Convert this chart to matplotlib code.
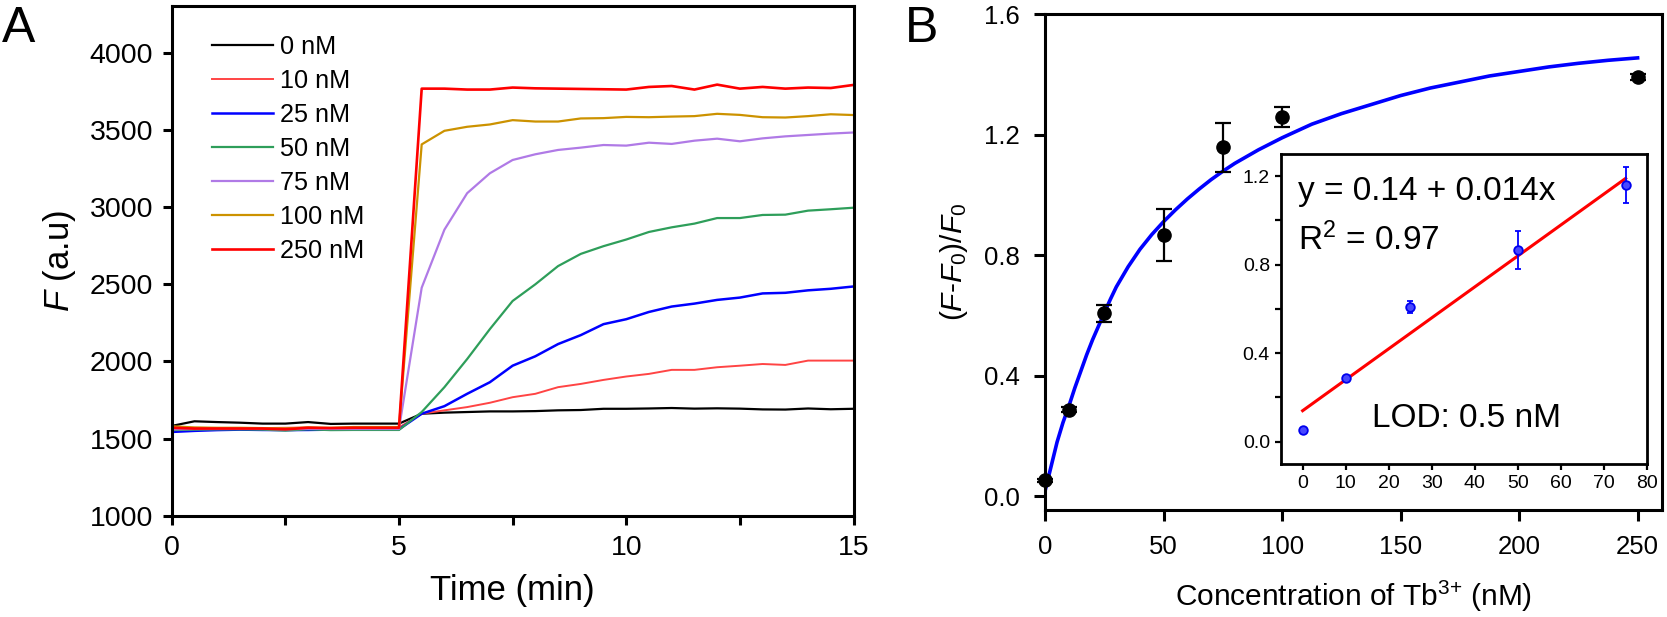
import matplotlib.pyplot as plt
from matplotlib.ticker import MultipleLocator

plt.rcParams['font.family'] = ['Liberation Sans', 'DejaVu Sans']
plt.rcParams['mathtext.fontset'] = 'custom'
plt.rcParams['mathtext.rm'] = 'Liberation Sans'
plt.rcParams['mathtext.it'] = 'Liberation Sans:italic'

# panel A: fluorescence vs time, one reading every 0.5 min
time_min = [i * 0.5 for i in range(31)]
labels = ['0 nM', '10 nM', '25 nM', '50 nM', '75 nM', '100 nM', '250 nM']
colors = ['#000000', '#ff4444', '#0000ff', '#2e9e5a', '#b07ae6', '#cc9200', '#ff0000']
widths = [1.6, 1.4, 1.8, 1.6, 1.6, 1.6, 1.9]

f_0 = [1582, 1612, 1607, 1603, 1597, 1597, 1607, 1595, 1597, 1597, 1597,
       1661, 1668, 1672, 1676, 1676, 1678, 1683, 1685, 1693, 1693, 1695,
       1698, 1694, 1696, 1694, 1689, 1688, 1695, 1690, 1693]
f_10 = [1575, 1570, 1568, 1565, 1568, 1570, 1572, 1565, 1568, 1570, 1572,
        1661, 1683, 1704, 1732, 1768, 1790, 1833, 1854, 1880, 1902, 1919,
        1945, 1945, 1962, 1972, 1983, 1977, 2005, 2005, 2005]
f_25 = [1543, 1550, 1555, 1558, 1556, 1555, 1556, 1558, 1560, 1558, 1560,
        1661, 1710, 1790, 1865, 1972, 2033, 2112, 2170, 2241, 2273, 2320,
        2355, 2374, 2398, 2413, 2440, 2444, 2460, 2470, 2485]
f_50 = [1555, 1558, 1560, 1560, 1558, 1552, 1560, 1555, 1556, 1556, 1556,
        1672, 1833, 2015, 2209, 2391, 2499, 2617, 2696, 2746, 2789, 2838,
        2868, 2892, 2928, 2928, 2948, 2950, 2976, 2985, 2995]
f_75 = [1560, 1562, 1562, 1563, 1562, 1560, 1563, 1562, 1562, 1562, 1562,
        2477, 2853, 3089, 3218, 3304, 3341, 3369, 3384, 3401, 3397, 3416,
        3408, 3429, 3442, 3425, 3444, 3457, 3466, 3475, 3482]
f_100 = [1580, 1572, 1570, 1570, 1568, 1565, 1572, 1570, 1575, 1575, 1575,
         3405, 3493, 3519, 3534, 3562, 3553, 3553, 3573, 3575, 3583, 3581,
         3585, 3588, 3603, 3596, 3581, 3579, 3588, 3600, 3595]
f_250 = [1570, 1565, 1565, 1565, 1565, 1560, 1570, 1568, 1570, 1570, 1570,
         3766, 3766, 3760, 3760, 3773, 3768, 3766, 3764, 3762, 3760, 3777,
         3783, 3760, 3792, 3766, 3777, 3766, 3773, 3770, 3790]
series_a = [f_0, f_10, f_25, f_50, f_75, f_100, f_250]

# panel B: response vs Tb3+ concentration
conc = [0, 10, 25, 50, 75, 100, 250]
resp = [0.053, 0.287, 0.608, 0.866, 1.159, 1.259, 1.392]
resp_err = [0.006, 0.008, 0.028, 0.086, 0.081, 0.034, 0.010]

# fitted saturation curve
fit_x = [0, 2.5, 5, 7.5, 10, 12.5, 15, 17.5, 20, 22.5, 25, 27.5, 30, 35, 40,
         45, 50, 55, 60, 65, 70, 75, 80, 90, 100, 112.5, 125, 137.5, 150,
         162.5, 175, 187.5, 200, 212.5, 225, 237.5, 250]
fit_y = [0.02, 0.10, 0.18, 0.245, 0.30, 0.36, 0.415, 0.47, 0.52, 0.565,
         0.61, 0.654, 0.695, 0.762, 0.82, 0.869, 0.912, 0.951, 0.987, 1.02,
         1.051, 1.079, 1.105, 1.15, 1.19, 1.235, 1.27, 1.30, 1.33, 1.355,
         1.375, 1.395, 1.41, 1.425, 1.437, 1.447, 1.455]

# inset: linear range
lin_x = [0, 10, 25, 50, 75]
lin_y = [0.053, 0.287, 0.608, 0.866, 1.159]
lin_err = [0.010, 0.012, 0.028, 0.086, 0.081]
line_x = [0, 75]
line_y = [0.14, 1.19]

fig = plt.figure(figsize=(16.67, 6.17), dpi=100)

# ---- A ----
ax1 = fig.add_axes([0.103, 0.164, 0.409, 0.826])
for ys, lab, c, w in zip(series_a, labels, colors, widths):
    ax1.plot(time_min, ys, color=c, lw=w, label=lab)
ax1.set_xlim(0, 15)
ax1.set_ylim(1000, 4300)
ax1.xaxis.set_major_locator(MultipleLocator(5))
ax1.xaxis.set_minor_locator(MultipleLocator(2.5))
ax1.yaxis.set_major_locator(MultipleLocator(500))
ax1.tick_params(which='both', direction='out', length=6.5, width=2.2,
                labelsize=20.5, pad=7)
for s in ax1.spines.values():
    s.set_linewidth(2.2)
ax1.set_xlabel('Time (min)', fontsize=25, labelpad=10)
ax1.set_ylabel('$F$ (a.u)', fontsize=25, labelpad=8)
ax1.legend(loc='upper left', frameon=False, fontsize=18.2, handlelength=2.4,
           handletextpad=0.3, labelspacing=0.4, bbox_to_anchor=(0.026, 0.989))
fig.text(0.001, 0.99, 'A', fontsize=36, va='top', ha='left')

# ---- B ----
ax2 = fig.add_axes([0.627, 0.173, 0.370, 0.804])
ax2.plot(fit_x, fit_y, color='#0000ff', lw=2.6, zorder=2)
ax2.errorbar(conc, resp, yerr=resp_err, fmt='o', color='black', ms=9.5,
             capsize=6, elinewidth=1.6, capthick=1.6, zorder=3, clip_on=False)
ax2.set_xlim(0, 260.3)
ax2.set_ylim(-0.046, 1.6)
ax2.xaxis.set_major_locator(MultipleLocator(50))
ax2.yaxis.set_major_locator(MultipleLocator(0.4))
ax2.yaxis.set_major_formatter(plt.FormatStrFormatter('%.1f'))
ax2.tick_params(direction='out', length=8, width=2.2, labelsize=18.5, pad=10)
for s in ax2.spines.values():
    s.set_linewidth(2.2)
ax2.set_xlabel(r'Concentration of Tb$^{3\!+}\,$(nM)', fontsize=21.5, labelpad=14)
ax2.set_ylabel(r'($F$-$F_\mathit{0}$)/$F_\mathit{0}$', fontsize=21.5, labelpad=10)
fig.text(0.543, 0.99, 'B', fontsize=36, va='top', ha='left')

# ---- inset ----
ax3 = fig.add_axes([0.7685, 0.2483, 0.2196, 0.502])
ax3.plot(line_x, line_y, color='#ff0000', lw=2.2, zorder=2)
ax3.errorbar(lin_x, lin_y, yerr=lin_err, fmt='o', color='#0000ff', ms=6.2,
             mfc='#4848ff', mec='#0000ee', mew=1.3, capsize=2.5, elinewidth=1.3,
             capthick=1.3, zorder=3)
ax3.set_xlim(-5, 80)
ax3.set_ylim(-0.1, 1.3)
ax3.xaxis.set_major_locator(MultipleLocator(10))
ax3.yaxis.set_major_locator(MultipleLocator(0.4))
ax3.yaxis.set_minor_locator(MultipleLocator(0.2))
ax3.yaxis.set_major_formatter(plt.FormatStrFormatter('%.1f'))
ax3.tick_params(which='both', direction='out', length=4, width=1.6,
                labelsize=14, pad=4)
for s in ax3.spines.values():
    s.set_linewidth(2)
ax3.text(0.045, 0.851, 'y = 0.14 + 0.014x', transform=ax3.transAxes,
         fontsize=24, va='baseline')
ax3.text(0.045, 0.69, 'R$^2$ = 0.97', transform=ax3.transAxes,
         fontsize=24, va='baseline')
ax3.text(0.247, 0.12, 'LOD: 0.5 nM', transform=ax3.transAxes,
         fontsize=24, va='baseline')

fig.savefig('out.png', dpi=100)
